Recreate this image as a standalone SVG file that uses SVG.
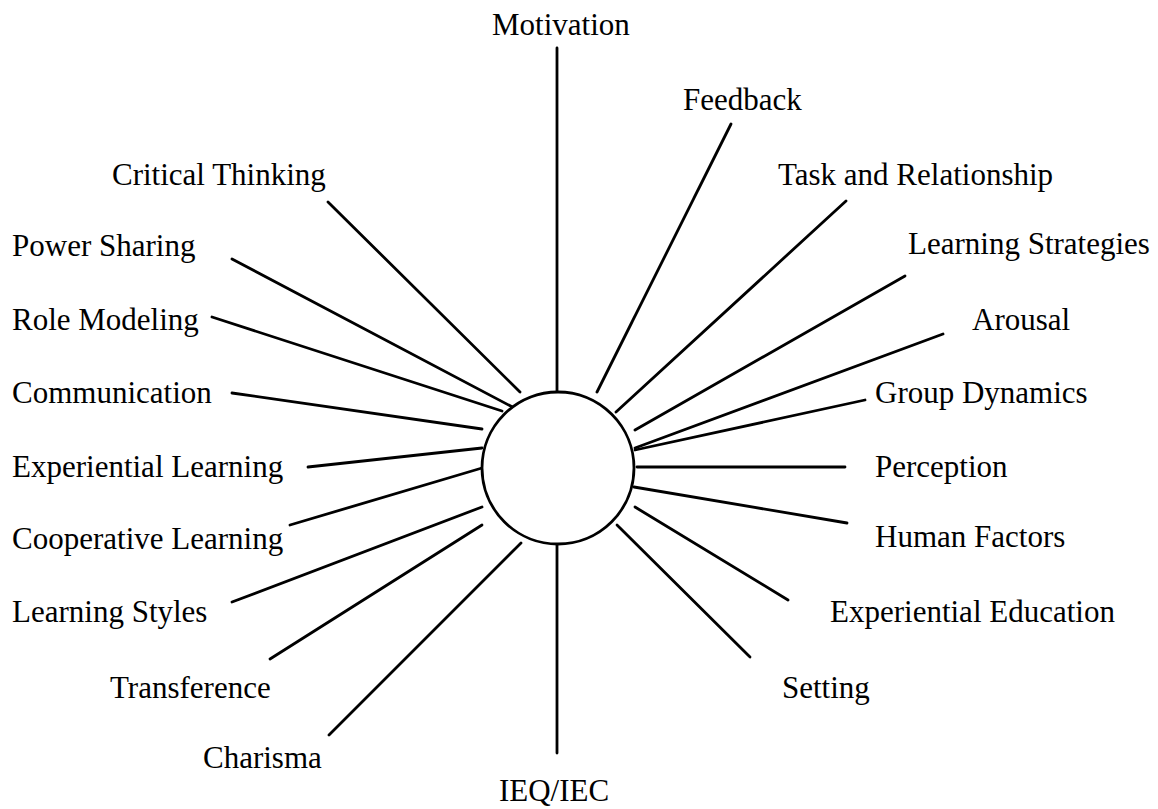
<svg xmlns="http://www.w3.org/2000/svg" width="1158" height="809" viewBox="0 0 1158 809">
<style>
.lbl{font-family:"Liberation Serif","Times New Roman",serif;font-size:31px;fill:#000}
.c line{stroke:#000;stroke-width:2.8;stroke-linecap:round}
</style>
<rect width="1158" height="809" fill="#fff"/>
<g class="c" id="connectors">
<line x1="557" y1="48" x2="557" y2="392"/>
<line x1="731" y1="124" x2="597" y2="392"/>
<line x1="846" y1="201" x2="616" y2="412"/>
<line x1="905" y1="276" x2="635" y2="430"/>
<line x1="943" y1="334" x2="635" y2="448"/>
<line x1="865" y1="400" x2="635" y2="450"/>
<line x1="637" y1="467" x2="845" y2="467"/>
<line x1="634" y1="487" x2="847" y2="523"/>
<line x1="635" y1="507" x2="788" y2="600"/>
<line x1="617" y1="525" x2="750" y2="657"/>
<line x1="557" y1="544" x2="557" y2="753"/>
<line x1="521" y1="543" x2="329" y2="735"/>
<line x1="482" y1="525" x2="270" y2="659"/>
<line x1="482" y1="507" x2="232" y2="602"/>
<line x1="482" y1="468" x2="290" y2="525"/>
<line x1="482" y1="448" x2="308" y2="467"/>
<line x1="482" y1="429" x2="232" y2="393"/>
<line x1="502" y1="411" x2="212" y2="317"/>
<line x1="520" y1="411" x2="232" y2="259"/>
<line x1="520" y1="392" x2="328" y2="202"/>
</g>
<g id="hub"><circle cx="558" cy="468" r="76" fill="#fff" stroke="#000" stroke-width="2.8"/></g>
<g id="n-motivation"><text class="lbl" x="492" y="35">Motivation</text></g>
<g id="n-feedback"><text class="lbl" x="683" y="110">Feedback</text></g>
<g id="n-critical"><text class="lbl" x="112" y="185">Critical Thinking</text></g>
<g id="n-task"><text class="lbl" x="778" y="185">Task and Relationship</text></g>
<g id="n-power"><text class="lbl" x="12" y="256">Power Sharing</text></g>
<g id="n-strategies"><text class="lbl" x="908" y="254">Learning Strategies</text></g>
<g id="n-role"><text class="lbl" x="12" y="330">Role Modeling</text></g>
<g id="n-arousal"><text class="lbl" x="972" y="330">Arousal</text></g>
<g id="n-communication"><text class="lbl" x="12" y="403">Communication</text></g>
<g id="n-group"><text class="lbl" x="875" y="403">Group Dynamics</text></g>
<g id="n-explearning"><text class="lbl" x="12" y="477">Experiential Learning</text></g>
<g id="n-perception"><text class="lbl" x="875" y="477">Perception</text></g>
<g id="n-coop"><text class="lbl" x="12" y="549">Cooperative Learning</text></g>
<g id="n-human"><text class="lbl" x="875" y="547">Human Factors</text></g>
<g id="n-styles"><text class="lbl" x="12" y="622">Learning Styles</text></g>
<g id="n-expedu"><text class="lbl" x="830" y="622">Experiential Education</text></g>
<g id="n-transference"><text class="lbl" x="110" y="698">Transference</text></g>
<g id="n-setting"><text class="lbl" x="782" y="698">Setting</text></g>
<g id="n-charisma"><text class="lbl" x="203" y="768">Charisma</text></g>
<g id="n-ieq"><text class="lbl" x="554" y="801" text-anchor="middle">IEQ/IEC</text></g>
</svg>
